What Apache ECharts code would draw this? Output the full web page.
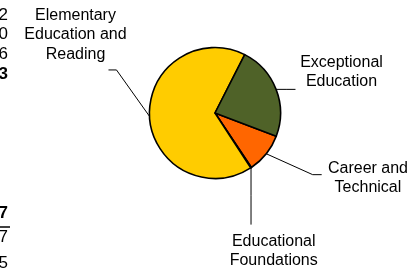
<!DOCTYPE html>
<html>
<head>
<meta charset="utf-8">
<script src="https://cdn.jsdelivr.net/npm/echarts@6/dist/echarts.min.js"></script>
<style>
html,body{margin:0;padding:0;background:#fff;}
#chart{width:415px;height:273px;}
</style>
</head>
<body>
<div id="chart"></div>
<script>
// ---- data ----
const categories = ['Career and Technical', 'Educational Foundations', 'Elementary Education and Reading', 'Exceptional Education'];
const labelTexts = ['Career and\nTechnical', 'Educational\nFoundations', 'Elementary\nEducation and\nReading', 'Exceptional\nEducation'];
const values = [9.9, 0.2, 66.8, 23.3];
const colors = ['#FF6600', '#FFCC00', '#FFCC00', '#4F6228'];
// clipped table text at the left edge
const sideTopTexts = ['2', '0', '6', '3'];
const sideBottomTexts = ['7', '7', '5'];

// ---- layout / styles ----
const FONT = 'Liberation Sans, Arial, sans-serif';
const FS = 16;
// label placement offsets relative to the slice anchor (edge point at mid-angle)
const labelCfg = [
  { line: [[46.4, 20.9], [55.4, 20.9]], label: [101.7, 24.5] },
  { line: [[0, 28], [0, 56.9]], label: [22.7, 83.5] },
  { line: [[-33.1, -46.5], [-41.1, -46.5]], label: [-74.1, -81.5] },
  { line: [[10, 0], [19.4, 0]], label: [65.4, -17.5] }
];

const chart = echarts.init(document.getElementById('chart'), null, { renderer: 'canvas' });

const pieData = categories.map((c, i) => ({
  name: c,
  value: values[i],
  itemStyle: { color: colors[i] },
  label: { formatter: labelTexts[i] }
}));

const topYs = [15.5, 34.5, 54, 74];
const bottomYs = [213.5, 237.5, 263];
const graphics = [];
sideTopTexts.forEach((t, i) => {
  graphics.push({
    type: 'text', x: 8, y: topYs[i], silent: true,
    style: { text: t, fill: '#000', font: (i === 3 ? 'bold ' : '') + '17px ' + FONT, textAlign: 'right', textVerticalAlign: 'middle' }
  });
});
sideBottomTexts.forEach((t, i) => {
  graphics.push({
    type: 'text', x: 8, y: bottomYs[i], silent: true,
    style: { text: t, fill: '#000', font: (i === 0 ? 'bold ' : '') + '17px ' + FONT, textAlign: 'right', textVerticalAlign: 'middle' }
  });
});
graphics.push({
  type: 'line', silent: true,
  shape: { x1: 0, y1: 227, x2: 10, y2: 227 },
  style: { stroke: '#000', lineWidth: 1.5 }
});

chart.setOption({
  backgroundColor: '#fff',
  animation: false,
  graphic: graphics,
  series: [{
    type: 'pie',
    center: [215, 113],
    radius: 65.5,
    startAngle: -20.7,
    clockwise: true,
    avoidLabelOverlap: false,
    minAngle: 0,
    data: pieData,
    itemStyle: { borderColor: '#000', borderWidth: 1.6 },
    label: {
      show: true,
      position: 'outside',
      color: '#000',
      fontFamily: FONT,
      fontSize: FS,
      lineHeight: 19.3,
      align: 'center'
    },
    labelLine: {
      show: true,
      length: 10,
      length2: 10,
      lineStyle: { color: '#000', width: 1 }
    },
    labelLayout: function (params) {
      const cfg = labelCfg[params.dataIndex];
      const pts = params.labelLinePoints;
      if (!pts || !pts.length) return {};
      const a = pts[0];
      return {
        x: a[0] + cfg.label[0],
        y: a[1] + cfg.label[1],
        align: 'center',
        verticalAlign: 'middle',
        labelLinePoints: [
          [a[0], a[1]],
          [a[0] + cfg.line[0][0], a[1] + cfg.line[0][1]],
          [a[0] + cfg.line[1][0], a[1] + cfg.line[1][1]]
        ]
      };
    }
  }]
});
</script>
</body>
</html>
